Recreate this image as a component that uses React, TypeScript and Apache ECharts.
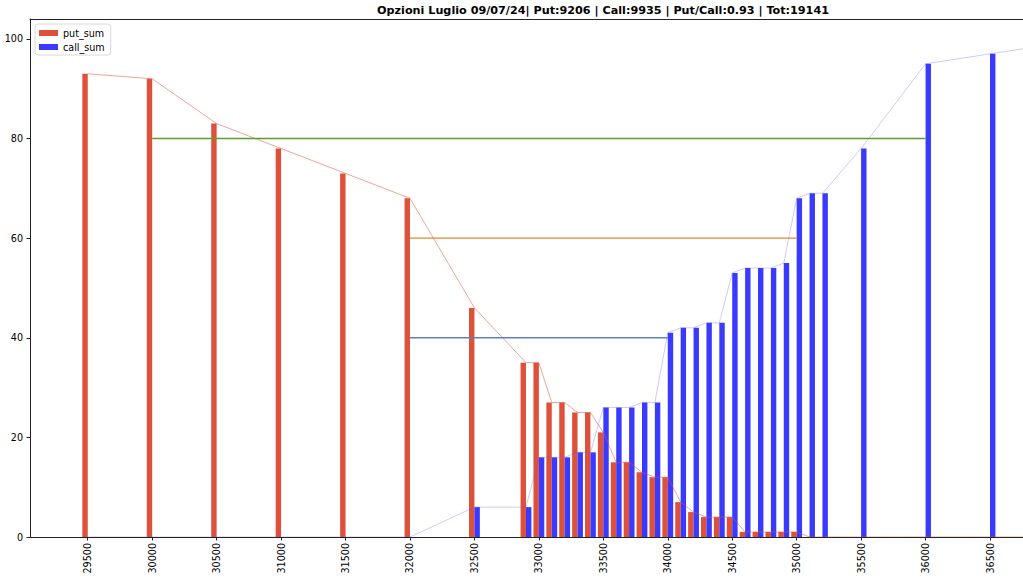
import React, { useEffect, useRef } from "react";
import * as echarts from "echarts";

const strikes = [29500, 30000, 30500, 31000, 31500, 32000, 32500, 32900, 33000, 33100, 33200, 33300, 33400, 33500, 33600, 33700, 33800, 33900, 34000, 34100, 34200, 34300, 34400, 34500, 34600, 34700, 34800, 34900, 35000, 35100, 35200, 35500, 36000, 36500, 37000];
const putSum = [93, 92, 83, 78, 73, 68, 46, 35, 35, 27, 27, 25, 25, 21, 15, 15, 13, 12, 12, 7, 5, 4, 4, 4, 1, 1, 1, 1, 1, 0, 0, 0, 0, 0, 0];
const callSum = [0, 0, 0, 0, 0, 0, 6, 6, 16, 16, 16, 17, 17, 26, 26, 26, 27, 27, 41, 42, 42, 43, 43, 53, 54, 54, 54, 55, 68, 69, 69, 78, 95, 97, 99];
const xTicks = [29500, 30000, 30500, 31000, 31500, 32000, 32500, 33000, 33500, 34000, 34500, 35000, 35500, 36000, 36500];
const yTicks = [0, 20, 40, 60, 80, 100];
const level80 = [[30000, 80], [36000, 80]];
const level60 = [[32000, 60], [35000, 60]];
const level40 = [[32000, 40], [34000, 40]];
const titleText = "Opzioni Luglio 09/07/24| Put:9206 | Call:9935 | Put/Call:0.93 | Tot:19141";

const BAR_W = 42;
const RED = "#DF503A";
const BLUE = "#3A3AFF";
const FONT = "DejaVu Sans";

export default function App() {
  const ref = useRef<HTMLDivElement>(null);
  useEffect(() => {
    if (!ref.current) return;
    const chart = echarts.init(ref.current, null, { renderer: "svg" });
    const putData = strikes.map((s, i) => [s, putSum[i]]);
    const callData = strikes.map((s, i) => [s, callSum[i]]);
    const barRender = (side: number, color: string) => (params: any, api: any) => {
      const x = api.value(0);
      const y = api.value(1);
      const a = side < 0 ? x - BAR_W : x;
      const b = side < 0 ? x : x + BAR_W;
      const p0 = api.coord([a, y]);
      const p1 = api.coord([b, 0]);
      return {
        type: "rect",
        shape: { x: p0[0], y: p0[1], width: p1[0] - p0[0], height: p1[1] - p0[1] },
        style: { fill: color },
      };
    };
    const axisColor = "#222";
    chart.setOption({
      animation: false,
      backgroundColor: "#fff",
      grid: { left: 30, right: 0, top: 19, bottom: 42, containLabel: false },
      graphic: [
        {
          type: "text",
          x: 603,
          y: 10,
          style: {
            text: titleText,
            textAlign: "center",
            textVerticalAlign: "middle",
            font: `bold 11.2px "${FONT}"`,
            fill: "#000",
          },
        },
      ],
      legend: {
        left: 35,
        top: 24,
        orient: "vertical",
        itemWidth: 19,
        itemHeight: 6,
        itemGap: 4,
        padding: [4, 6, 3, 4],
        backgroundColor: "rgba(255,255,255,0.85)",
        borderColor: "#d8d8d8",
        borderWidth: 1,
        borderRadius: 3,
        textStyle: { fontFamily: FONT, fontSize: 9.6, color: "#000" },
        data: [
          { name: "put_sum", icon: "rect", itemStyle: { color: RED } },
          { name: "call_sum", icon: "rect", itemStyle: { color: BLUE } },
        ],
      },
      xAxis: [
        {
          type: "value",
          min: 29052,
          max: 36756,
          axisLine: { show: true, onZero: false, lineStyle: { color: axisColor, width: 1 } },
          axisTick: { show: true, customValues: xTicks, length: 3.5, lineStyle: { color: axisColor } },
          axisLabel: {
            customValues: xTicks,
            formatter: (v: number) => String(v),
            rotate: 90,
            margin: 6,
            fontFamily: FONT,
            fontSize: 9.6,
            color: "#000",
          },
          splitLine: { show: false },
        },
        {
          type: "value",
          position: "top",
          min: 29052,
          max: 36756,
          axisLine: { show: true, onZero: false, lineStyle: { color: axisColor, width: 1 } },
          axisTick: { show: false },
          axisLabel: { show: false },
          splitLine: { show: false },
        },
      ],
      yAxis: {
        type: "value",
        min: 0,
        max: 104,
        axisLine: { show: true, onZero: false, lineStyle: { color: axisColor, width: 1 } },
        axisTick: { show: true, customValues: yTicks, length: 3.5, lineStyle: { color: axisColor } },
        axisLabel: {
          customValues: yTicks,
          formatter: (v: number) => String(v),
          margin: 7,
          fontFamily: FONT,
          fontSize: 9.6,
          color: "#000",
        },
        splitLine: { show: false },
      },
      series: [
        {
          name: "put_sum",
          type: "custom",
          renderItem: barRender(-1, RED),
          itemStyle: { color: RED },
          encode: { x: 0, y: 1 },
          data: putData,
          z: 2,
        },
        {
          name: "call_sum",
          type: "custom",
          renderItem: barRender(1, BLUE),
          itemStyle: { color: BLUE },
          encode: { x: 0, y: 1 },
          data: callData,
          z: 2,
        },
        {
          name: "put_line",
          type: "line",
          data: putData,
          symbol: "none",
          lineStyle: { color: "rgba(224,80,58,0.75)", width: 0.7 },
          z: 3,
        },
        {
          name: "call_line",
          type: "line",
          data: callData,
          symbol: "none",
          lineStyle: { color: "rgba(90,90,255,0.45)", width: 0.7 },
          z: 3,
        },
        {
          name: "l80",
          type: "line",
          data: level80,
          symbol: "none",
          lineStyle: { color: "#5C9E2C", width: 1.6 },
          z: 4,
        },
        {
          name: "l60",
          type: "line",
          data: level60,
          symbol: "none",
          lineStyle: { color: "#E0882A", width: 1.4 },
          z: 4,
        },
        {
          name: "l40",
          type: "line",
          data: level40,
          symbol: "none",
          lineStyle: { color: "#5A82BE", width: 1.4 },
          z: 4,
        },
      ],
    });
    return () => chart.dispose();
  }, []);
  return <div ref={ref} style={{ position: "absolute", left: 0, top: 0, width: 1023, height: 579 }} />;
}
